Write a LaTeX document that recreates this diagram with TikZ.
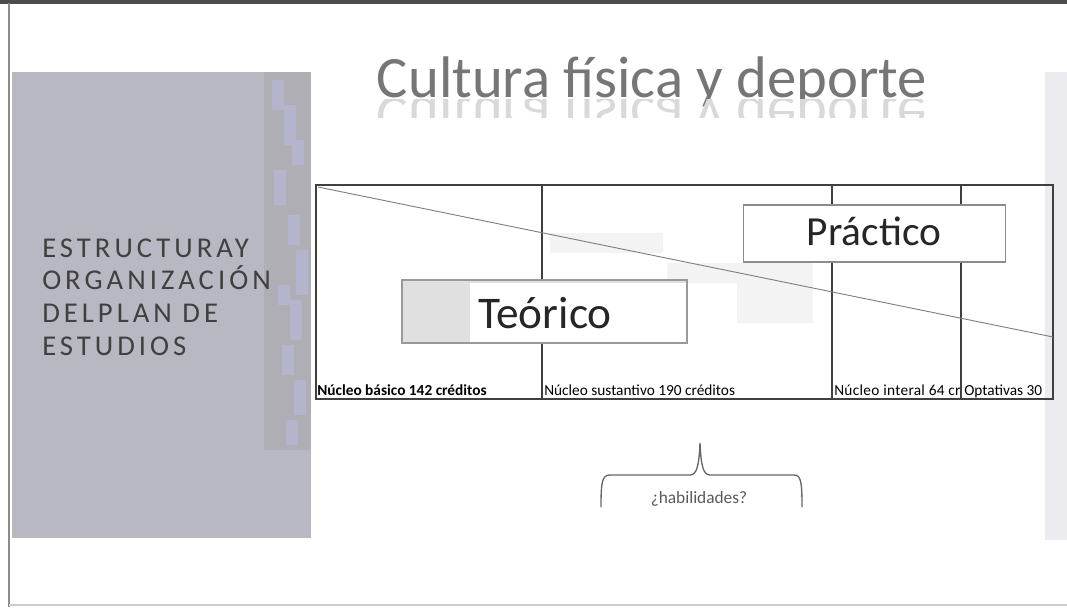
\documentclass[tikz,border=0pt]{standalone}
\usepackage{fontspec}
\setmainfont{Carlito}
\newfontfamily\widefont[LetterSpace=14]{Carlito}
\newfontfamily\loosefont[LetterSpace=2]{Carlito}
\usetikzlibrary{positioning}

\definecolor{panelgray}{RGB}{184,184,194}
\definecolor{stripgray}{RGB}{174,174,180}
\definecolor{stripblue}{RGB}{180,180,204}
\definecolor{sidegray}{RGB}{236,236,240}
\definecolor{titlegray}{RGB}{118,118,118}
\definecolor{ghostgray}{RGB}{243,243,243}

\begin{document}
\begin{tikzpicture}[x=0.75pt,y=0.75pt,yscale=-1,xscale=1,
    labeltext/.style={anchor=base west, inner sep=0pt, font=\fontsize{11.5}{13}\selectfont},
    tagbox/.style={draw=black!45, line width=0.8pt, fill=white, inner sep=0pt},
    tablerule/.style={draw=black!75, line width=1.1pt},
    brace/.style={draw=black!60, line width=1pt}]
    %uncomment if require: \path (0,607); %set diagram size
    \useasboundingbox (0,0) rectangle (1067,607);

    %Page frame
    \draw[black!70, line width=2.5pt] (0,2) -- (1067,2) ;
    \draw[black!45, line width=2pt] (9,3) -- (9,607) ;
    \draw[black!20, line width=1pt] (9,605) -- (1067,605) ;

    %Side panels
    \fill[panelgray] (12,72) rectangle (311,538) ;
    \fill[stripgray] (264,72) rectangle (311,450) ;
    \foreach \bx/\by/\bh in {272/80/30, 284/105/40, 292/140/25, 274/170/35, 288/215/30, 296/250/45, 278/285/20, 290/300/40, 282/345/30, 294/380/35, 286/420/25}
        \fill[stripblue] (\bx,\by) rectangle (\bx+12,\by+\bh) ;
    \fill[sidegray] (1045,72) rectangle (1067,540) ;

    %Faint shapes behind the table
    \fill[ghostgray] (550,233) rectangle (663,253) ;
    \fill[ghostgray] (667,263) rectangle (813,283) ;
    \fill[ghostgray] (737,283) rectangle (813,323) ;

    % Title
    \node[anchor=base, inner sep=0pt, text=titlegray, font=\fontsize{44}{50}\selectfont] (title) at (652,97) {Cultura física y deporte};
    \begin{scope}
    \clip (340,99) rectangle (980,117) ;
    \node[anchor=base, inner sep=0pt, yscale=-1, text=black!15, font=\fontsize{44}{50}\selectfont] (mirror) at (652,97) {Cultura física y deporte};
    \end{scope}

    % Text Node
    \node[anchor=base west, inner sep=0pt, align=left, text=black!75, font=\widefont\fontsize{21.5}{24.4}\selectfont] (plan) at (42,355) {ESTRUCTURAY\\ORGANIZACIÓN\\DELPLAN DE\\ESTUDIOS};

    %Table corners
    \coordinate (tl) at (316,185) ;
    \coordinate (br) at (1053,399) ;
    \coordinate (d1) at (542,185) ;
    \coordinate (d2) at (832,185) ;
    \coordinate (d3) at (961,185) ;
    \coordinate (dgend) at (1053,337) ;

    \draw[tablerule] (tl) rectangle (br) ;
    \draw[tablerule] (d1) -- (d1 |- br) ;
    \draw[tablerule] (d2) -- (d2 |- br) ;
    \draw[tablerule] (d3) -- (d3 |- br) ;
    %Straight Lines
    \draw[black!50, line width=0.7pt] (318,187) -- (dgend) ;

    % Text Node
    \node[labeltext, font=\bfseries\fontsize{11.5}{13}\selectfont] (basic) at (317,395) {Núcleo básico 142 créditos};
    % Text Node
    \node[labeltext] (core) at (544,395) {Núcleo sustantivo 190 créditos};
    % Text Node
    \node[labeltext, font=\loosefont\fontsize{11.5}{13}\selectfont] (integral) at (834,395) {Núcleo interal 64 cr};
    % Text Node
    \node[labeltext] (elective) at (964,395) {Optativas 30};

    %Theory box
    \fill[black!12] (402,280) rectangle (687,343) ;
    \fill[white] (470,283) rectangle (686,342) ;
    \draw[black!40, line width=0.8pt] (402,280) rectangle (687,343) ;
    \node[inner sep=0pt, anchor=base, font=\fontsize{34}{40}\selectfont, text=black!85] (theory) at (545,328) {Teórico};

    %Practice box
    \node[tagbox, minimum width=196.5pt, minimum height=42.75pt] (practicebox) at (874.5,233.5) {};
    \node[inner sep=0pt, anchor=base, font=\fontsize{31}{36}\selectfont, text=black!85] (practice) at (874,245) {Práctico};

    %Brace
    \draw[brace] (601,507) .. controls (601,482) and (602,475) .. (610,475) -- (690,475) .. controls (697,475) and (699,465) .. (700,443) .. controls (701,465) and (703,475) .. (710,475) -- (794,475) .. controls (801,475) and (802,482) .. (802,507) ;
    % Text Node
    \node[anchor=base, inner sep=0pt, font=\fontsize{13}{15}\selectfont, text=black!65] (skills) at (699,503) {¿habilidades?};

\end{tikzpicture}
\end{document}
